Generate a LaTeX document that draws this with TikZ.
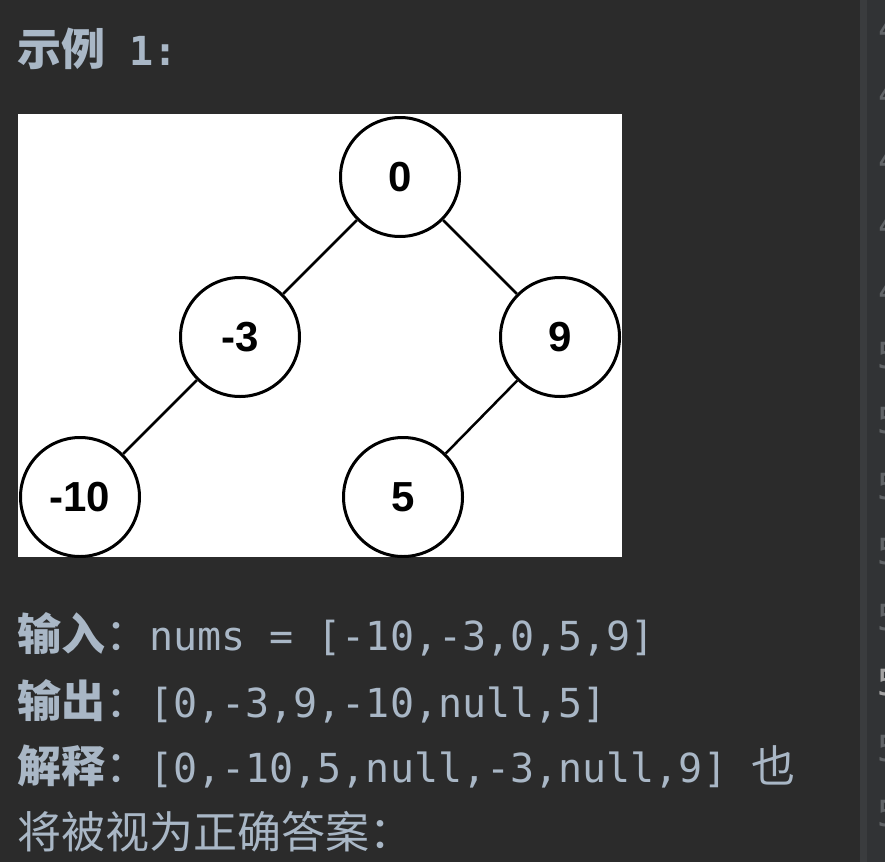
\documentclass[tikz,border=0pt]{standalone}
\usepackage{fontspec}
\newfontfamily\cjk{Noto Sans CJK SC}
\newfontfamily\mono{DejaVu Sans Mono}
\newfontfamily\lab{Liberation Sans}
\definecolor{bg}{HTML}{2B2B2B}
\definecolor{fg}{HTML}{A9B7C6}
\definecolor{gutter}{HTML}{313335}
\definecolor{gstrip}{HTML}{3A3C3E}
\definecolor{lnc}{HTML}{606366}
\definecolor{lncur}{HTML}{A4A3A3}
\begin{document}
\begin{tikzpicture}[x=1pt,y=-1pt,
  tnode/.style={circle, draw=black, line width=3pt, minimum size=119pt, inner sep=0pt,
    font=\lab\bfseries\fontsize{42}{42}\selectfont},
  tedge/.style={draw=black, line width=2.5pt},
  txt/.style={text=fg, anchor=base west, inner sep=0pt},
  lnum/.style={text=lnc, anchor=west, inner sep=0pt, font=\mono\fontsize{36}{36}\selectfont},
  cj/.style={font=\cjk\fontsize{44}{44}\selectfont}]
\useasboundingbox (0,0) rectangle (885,862);
\fill[bg] (0,0) rectangle (885,862);
\fill[gstrip] (860,0) rectangle (867,862);
\fill[gutter] (867,0) rectangle (885,862);
% line numbers (cut off at the right edge)
\begin{scope}
\clip (867,0) rectangle (885,862);
\foreach \k in {0,...,4} \node[lnum] (la\k) at (878,28+65.5*\k) {4};
\foreach \k in {5,...,12} \node[lnum] (lb\k) at (877,28+65.5*\k) {5};
\node[lnum, text=lncur] (lcur) at (877,28+65.5*10) {5};
\end{scope}
% title
\node[txt] (title) at (17,65) {{\cjk\bfseries\fontsize{44}{44}\selectfont 示例}{\mono\bfseries\fontsize{40}{40}\selectfont\ 1:}};
% tree image
\begin{scope}
\clip (18,114) rectangle (622,557);
\fill[white] (18,114) rectangle (622,557);
\node[tnode] (n0) at (400,177) {0};
\node[tnode] (nm3) at (240,337) {-3};
\node[tnode] (n9) at (560,337) {9};
\node[tnode] (nm10) at (80,497) {-10};
\node[tnode] (n5) at (403,497) {5};
\draw[tedge] (n0) -- (nm3);
\draw[tedge] (n0) -- (n9);
\draw[tedge] (nm3) -- (nm10);
\draw[tedge] (n9) -- (n5);
\end{scope}
% text lines
\node[txt] (l1) at (17,650) {{\cjk\bfseries\fontsize{44}{44}\selectfont 输入}{\cjk\fontsize{44}{44}\selectfont ：}{\mono\fontsize{40}{40}\selectfont nums = [-10,-3,0,5,9]}};
\node[txt] (l2) at (17,717) {{\cjk\bfseries\fontsize{44}{44}\selectfont 输出}{\cjk\fontsize{44}{44}\selectfont ：}{\mono\fontsize{40}{40}\selectfont [0,-3,9,-10,null,5]}};
\node[txt] (l3) at (17,782) {{\cjk\bfseries\fontsize{44}{44}\selectfont 解释}{\cjk\fontsize{44}{44}\selectfont ：}{\mono\fontsize{40}{40}\selectfont [0,-10,5,null,-3,null,9] }{\cjk\fontsize{44}{44}\selectfont 也}};
\node[txt] (l4) at (17,848) {\cjk\fontsize{44}{44}\selectfont 将被视为正确答案：};
\end{tikzpicture}
\end{document}
